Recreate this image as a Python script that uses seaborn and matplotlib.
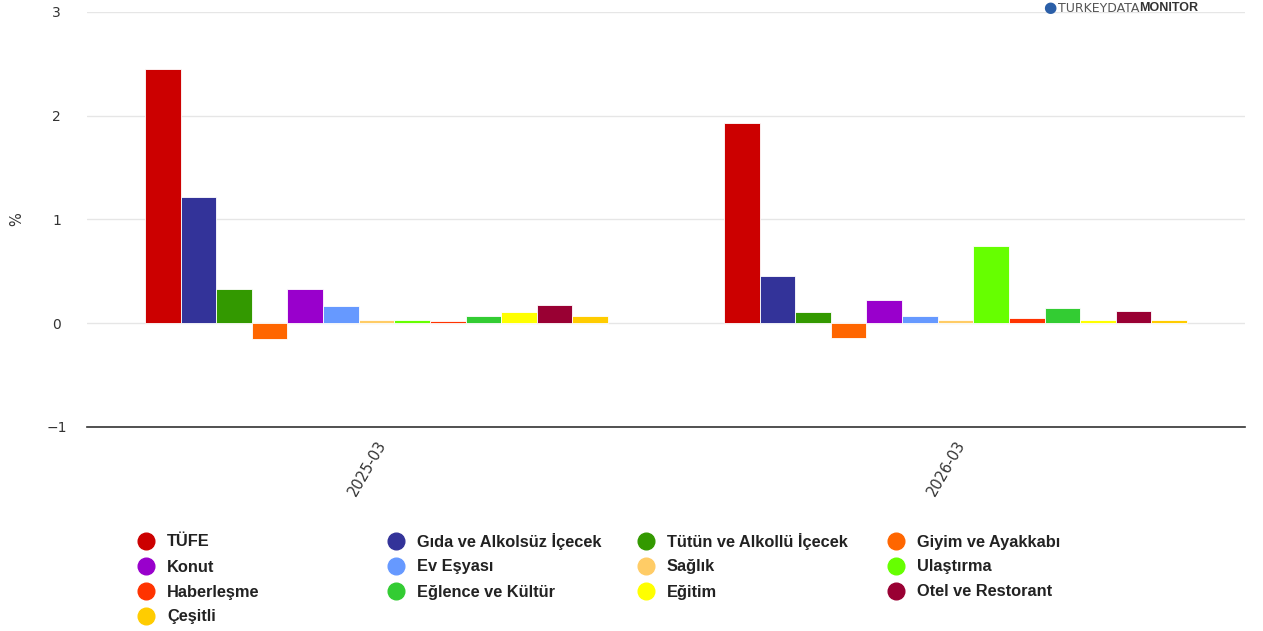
import pandas as pd
import matplotlib.pyplot as plt
import seaborn as sns
from matplotlib.lines import Line2D

# Data (monthly % change, March)
dates = ['2025-03', '2026-03']
categories = ['TÜFE', 'Gıda ve Alkolsüz İçecek', 'Tütün ve Alkollü İçecek', 'Giyim ve Ayakkabı',
              'Konut', 'Ev Eşyası', 'Sağlık', 'Ulaştırma',
              'Haberleşme', 'Eğlence ve Kültür', 'Eğitim', 'Otel ve Restorant',
              'Çeşitli']
values_2025 = [2.45, 1.22, 0.33, -0.15, 0.33, 0.17, 0.03, 0.03, 0.02, 0.07, 0.11, 0.18, 0.07]
values_2026 = [1.93, 0.46, 0.11, -0.14, 0.22, 0.07, 0.03, 0.74, 0.05, 0.15, 0.03, 0.12, 0.03]
colors = ['#CC0000', '#333399', '#339900', '#FF6600',
          '#9900CC', '#6699FF', '#FFCC66', '#66FF00',
          '#FF3300', '#33CC33', '#FFFF00', '#990033',
          '#FFCC00']

# long-form table for seaborn
rows = []
for d, vals in zip(dates, [values_2025, values_2026]):
    for c, v in zip(categories, vals):
        rows.append({'date': d, 'category': c, 'value': v})
df = pd.DataFrame(rows)

sns.set_style('white')
plt.rcParams['font.family'] = ['DejaVu Sans']

W, H = 1263, 631
fig = plt.figure(figsize=(12.63, 6.31), dpi=100)
ax = fig.add_axes([0.0689, 0.3233, 0.9168, 0.6577])

sns.barplot(data=df, x='date', y='value', hue='category', hue_order=categories,
            palette=dict(zip(categories, colors)), saturation=1, width=0.8, ax=ax,
            edgecolor='white', linewidth=0.6, legend=False)

ax.set_xlim(-0.5, 1.5)
ax.set_ylim(-1, 3)
ax.set_yticks([-1, 0, 1, 2, 3])
ax.set_yticklabels(['−1', '0', '1', '2', '3'])
ax.yaxis.grid(True, color='#e6e6e6', linewidth=1)
ax.set_axisbelow(True)
for s in ['top', 'right', 'left']:
    ax.spines[s].set_visible(False)
ax.spines['bottom'].set_color('#333333')
ax.spines['bottom'].set_linewidth(1.2)
ax.tick_params(axis='y', length=0, labelsize=10, labelcolor='#333333', pad=22)
for lab in ax.get_yticklabels():
    lab.set_ha('center')
ax.tick_params(axis='x', length=0, labelsize=10.5, labelcolor='#333333', pad=8)
for lab in ax.get_xticklabels():
    lab.set_rotation(60)
    lab.set_ha('right')
    lab.set_rotation_mode('anchor')
ax.set_xlabel('')
ax.set_ylabel('%', fontsize=10.5, color='#333333')
ax.yaxis.set_label_coords((24 - 87) / 1158, 0.5)

# legend: 4 columns, filled row by row like the original
legend_font = dict(family='Liberation Sans', weight='bold', size=11.8, color='#222222')
col_x = [146, 396, 646, 896]
row_y = [541, 566, 591, 616]
for i, (name, col) in enumerate(zip(categories, colors)):
    x = col_x[i % 4]
    y = row_y[i // 4]
    fig.add_artist(Line2D([x / W], [1 - y / H], marker='o', markersize=12, linestyle='',
                          markerfacecolor=col, markeredgecolor=col, transform=fig.transFigure))
    fig.text((x + 21) / W, 1 - (y + 5.5) / H, name, va='baseline', ha='left', **legend_font)

# logo
fig.text(1050 / W, 1 - 8 / H, '●', fontsize=11, color='#2b5fa8', va='center', ha='center')
fig.text(1139 / W, 1 - 8 / H, 'TURKEYDATA', fontsize=9, color='#555555',
         va='center', ha='right', family='Liberation Sans Narrow')
fig.text(1139 / W, 1 - 8 / H, 'MONITOR', fontsize=9, color='#333333', weight='bold',
         va='center', ha='left', family='Liberation Sans')

plt.savefig('out.png', dpi=100)
